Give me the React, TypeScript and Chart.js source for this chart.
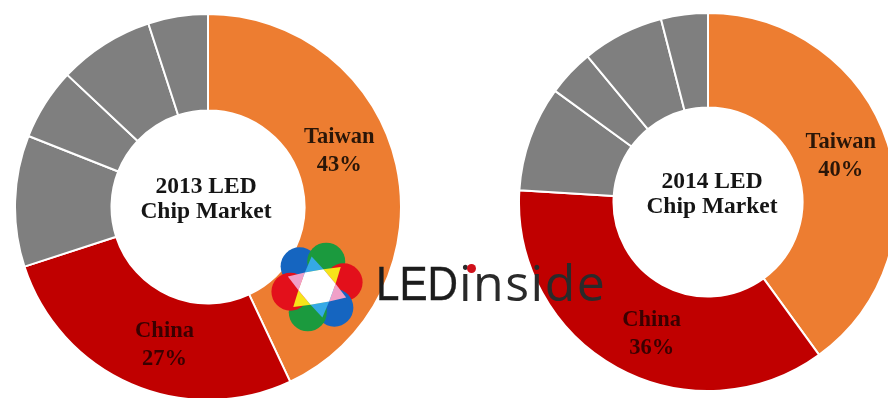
import React, { useEffect, useRef } from "react";
import { Chart, registerables } from "chart.js";

Chart.register(...registerables);

// ---- data ----
const regions = ["Taiwan", "China", "Other 1", "Other 2", "Other 3", "Other 4"];
const share2013 = [43, 27, 11, 6, 8, 5];
const share2014 = [40, 36, 9, 4, 7, 4];
const title2013 = ["2013 LED", "Chip Market"];
const title2014 = ["2014 LED", "Chip Market"];
const sliceColors = ["#ED7D31", "#C00000", "#7F7F7F", "#7F7F7F", "#7F7F7F", "#7F7F7F"];
const labelTextColors = ["#2a1608", "#3a0000"];

type LabelCfg = { index: number; dx: number; dy: number };

const donutText = {
  id: "donutText",
  afterDatasetsDraw(chart: any, _args: any, opts: any) {
    const ctx = chart.ctx;
    const meta = chart.getDatasetMeta(0);
    const first = meta.data[0];
    if (!first) return;
    const data = chart.data.datasets[0].data as number[];
    const total = data.reduce((a: number, b: number) => a + b, 0);
    ctx.save();
    ctx.textAlign = "center";
    ctx.textBaseline = "middle";
    ctx.font = "bold 23.5px 'Liberation Serif', serif";
    ctx.fillStyle = "#151515";
    (opts.title as string[]).forEach((t, i) => {
      ctx.fillText(t, first.x + (opts.titleDx || 0), first.y + opts.titleY[i]);
    });
    ctx.font = "bold 22.5px 'Liberation Serif', serif";
    (opts.labels as LabelCfg[]).forEach((l) => {
      const arc = meta.data[l.index];
      const p = arc.getCenterPoint();
      const x = p.x + l.dx;
      const y = p.y + l.dy;
      ctx.fillStyle = labelTextColors[l.index] || "#222";
      ctx.fillText(String(chart.data.labels[l.index]), x, y - 14);
      ctx.fillText(Math.round((data[l.index] / total) * 100) + "%", x, y + 14);
    });
    ctx.restore();
  },
};

function Donut(props: {
  values: number[];
  title: string[];
  labels: LabelCfg[];
  left: number;
  top: number;
  size: number;
  titleDx: number;
}) {
  const ref = useRef<HTMLCanvasElement | null>(null);
  useEffect(() => {
    if (!ref.current) return;
    const chart = new Chart(ref.current, {
      type: "doughnut",
      data: {
        labels: regions,
        datasets: [
          {
            data: props.values,
            backgroundColor: sliceColors,
            borderColor: "#ffffff",
            borderWidth: 2,
          },
        ],
      },
      options: {
        animation: false,
        responsive: true,
        maintainAspectRatio: false,
        cutout: "50%",
        layout: { padding: 0 },
        plugins: {
          legend: { display: false },
          tooltip: { enabled: false },
          donutText: {
            title: props.title,
            titleY: [-20, 5],
            titleDx: props.titleDx,
            labels: props.labels,
          },
        } as any,
      },
      plugins: [donutText],
    });
    return () => chart.destroy();
  }, []);
  return (
    <div
      style={{
        position: "absolute",
        left: props.left,
        top: props.top,
        width: props.size,
        height: props.size,
      }}
    >
      <canvas ref={ref} />
    </div>
  );
}

function Flower() {
  const cx = 50;
  const cy = 46;
  const rot = -10;
  const petalColors = ["#1565C0", "#1B9A3E", "#E3101B", "#1565C0", "#1B9A3E", "#E3101B"];
  const petalAngles = [-120, -60, 0, 60, 120, 180];
  const tipColors = ["#35A9E6", "#F7E41A", "#F0A0C8", "#35A9E6", "#F7E41A", "#F0A0C8"];
  const tipAngles = [-90, -30, 30, 90, 150, 210];
  const R = 31;
  const r = R / Math.sqrt(3) + 1;
  const rad = (a: number) => ((a + rot) * Math.PI) / 180;
  const pt = (a: number, d: number) => `${cx + d * Math.cos(rad(a))},${cy + d * Math.sin(rad(a))}`;
  const hex = [-60, 0, 60, 120, 180, 240].map((a) => pt(a, r)).join(" ");
  return (
    <svg width={100} height={92} style={{ position: "absolute", left: 267, top: 241 }}>
      {petalAngles.map((a, i) => (
        <circle
          key={i}
          cx={cx + 27 * Math.cos(rad(a))}
          cy={cy + 27 * Math.sin(rad(a))}
          r={19}
          fill={petalColors[i]}
        />
      ))}
      {tipAngles.map((a, i) => (
        <polygon key={"t" + i} points={`${pt(a, R)} ${pt(a - 30, r)} ${pt(a + 30, r)}`} fill={tipColors[i]} />
      ))}
      <polygon points={hex} fill="#ffffff" />
    </svg>
  );
}

export default function App() {
  useEffect(() => {
    document.body.style.margin = "0";
  }, []);
  return (
    <div
      style={{
        position: "relative",
        width: 888,
        height: 398,
        overflow: "hidden",
        background: "#ffffff",
      }}
    >
      <Donut
        values={share2013}
        title={title2013}
        titleDx={-2}
        labels={[
          { index: 0, dx: -10, dy: -24 },
          { index: 1, dx: 14, dy: 5 },
        ]}
        left={14}
        top={13}
        size={388}
      />
      <Donut
        values={share2014}
        title={title2014}
        titleDx={4}
        labels={[
          { index: 0, dx: -2, dy: -2 },
          { index: 1, dx: 12, dy: 8 },
        ]}
        left={518}
        top={12}
        size={380}
      />
      <Flower />
      <div
        style={{
          position: "absolute",
          left: 376,
          top: 253,
          fontFamily: "'Liberation Sans', Arial, sans-serif",
          fontSize: 49,
          lineHeight: "60px",
          color: "#1c1c1c",
          whiteSpace: "nowrap",
          transform: "scaleX(0.86)",
          transformOrigin: "left center",
          WebkitTextStroke: "0.4px #1c1c1c",
        }}
      >
        LED
      </div>
      <div
        style={{
          position: "absolute",
          left: 459,
          top: 252,
          fontFamily: "'Open Sans', sans-serif",
          fontSize: 50,
          lineHeight: "60px",
          letterSpacing: "1.5px",
          color: "#2a2a2a",
          whiteSpace: "nowrap",
          fontWeight: 400,
        }}
      >
        inside
      </div>
      <div
        style={{
          position: "absolute",
          left: 467,
          top: 264,
          width: 9,
          height: 9,
          borderRadius: "50%",
          background: "#D0101A",
        }}
      />
    </div>
  );
}
